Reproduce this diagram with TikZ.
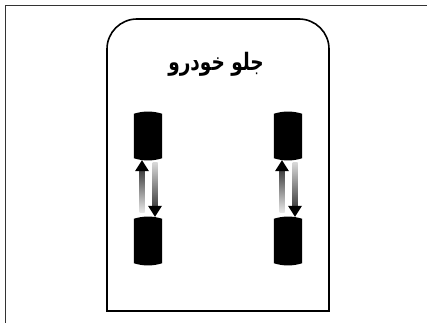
\documentclass[tikz,border=0pt]{standalone}
\usepackage{fontspec}
\newfontfamily\arabicfont[Script=Arabic]{DejaVu Sans}
\TeXXeTstate=1
\begin{document}
\begin{tikzpicture}[x=1pt,y=1pt,
  tire/.style={rectangle,inner sep=0pt,minimum width=28pt,minimum height=48pt},
  body/.style={line width=1.6pt},
  frameline/.style={line width=0.8pt,draw=black!80}]
\useasboundingbox (0,0) rectangle (427,322);
\draw[frameline] (5,-10) -- (5,317) -- (440,317);
\draw[body] (107,11) -- (107,273) arc[start angle=180,end angle=90,radius=30] -- (299,303) arc[start angle=90,end angle=0,radius=30] -- (329,11) -- cycle;
\node[font=\arabicfont\bfseries\fontsize{18.5}{20}\selectfont] (title) at (216,258) {\scalebox{1}[1.3]{\beginR جلو خودرو\endR}};
% tires
\node[tire] (fl) at (148,186) {};
\node[tire] (rl) at (148,81) {};
\node[tire] (fr) at (288,186) {};
\node[tire] (rr) at (288,81) {};
\foreach \t in {fl,rl,fr,rr}{
  \fill ([yshift=-2]\t.north west) .. controls ++(9,3) and ++(-9,3) .. ([yshift=-2]\t.north east)
     -- ([yshift=2]\t.south east) .. controls ++(-9,-3) and ++(9,-3) .. ([yshift=2]\t.south west) -- cycle;
}
% arrows
\foreach \a/\b in {fl/rl,fr/rr}{
  % up arrow
  \shade[top color=black!75,bottom color=black!8] ([xshift=-8.5,yshift=-10]\a.south) rectangle ([xshift=-3.5,yshift=4]\b.north);
  \fill ([xshift=-6]\a.south) -- ([xshift=-13,yshift=-11]\a.south) -- ([xshift=1,yshift=-11]\a.south) -- cycle;
  % down arrow
  \shade[top color=black!15,bottom color=black!75] ([xshift=4.5,yshift=-2]\a.south) rectangle ([xshift=9.5,yshift=10]\b.north);
  \fill ([xshift=7]\b.north) -- ([xshift=0,yshift=11]\b.north) -- ([xshift=14,yshift=11]\b.north) -- cycle;
}
\end{tikzpicture}
\end{document}
